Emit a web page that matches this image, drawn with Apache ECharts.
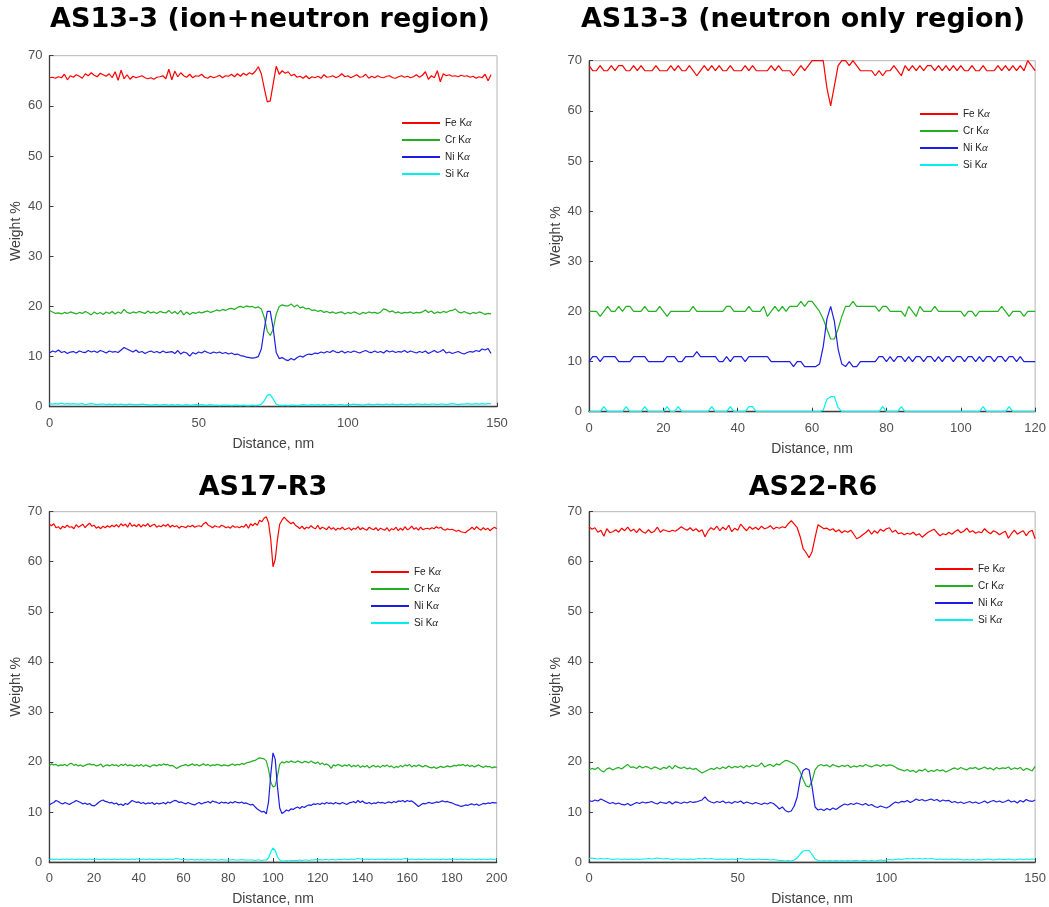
<!DOCTYPE html>
<html>
<head>
<meta charset="utf-8">
<script src="https://cdn.jsdelivr.net/npm/echarts@6/dist/echarts.min.js"></script>
<style>
  html, body { margin: 0; padding: 0; background: #fff; }
  #chart { width: 1049px; height: 907px; }
</style>
</head>
<body>
<div id="chart"></div>
<script>
// names and titles
const elements = ['Fe Kα', 'Cr Kα', 'Ni Kα', 'Si Kα']
const titles = ['AS13-3 (ion+neutron region)', 'AS13-3 (neutron only region)', 'AS17-R3', 'AS22-R6']
const xMax = [150, 120, 200, 150]
const xInterval = [50, 20, 20, 50]
const yTicks = [0, 10, 20, 30, 40, 50, 60, 70]

// AS13-3 ion+neutron, 0..148 nm, one value per nm
const fe1 = [
  65.6, 65.7, 65.5, 65.8, 65.6, 66.3, 65.2, 66.0, 65.7, 66.2,
  65.9, 65.5, 66.4, 66.0, 66.6, 66.1, 65.8, 66.5, 66.2, 65.9,
  66.4, 65.6, 66.8, 65.1, 67.1, 65.4, 66.2, 65.3, 65.9, 65.6,
  65.8, 66.0, 65.6, 65.4, 65.6, 65.3, 65.7, 65.8, 66.0, 65.4,
  67.3, 65.2, 66.9, 65.8, 66.6, 66.0, 65.7, 66.3, 65.6, 66.0,
  65.9, 66.3, 65.7, 65.5, 65.9, 65.6, 65.8, 66.1, 65.6, 66.0,
  65.9, 66.3, 65.8, 66.4, 65.9, 66.5, 66.1, 66.6, 66.3, 66.9,
  67.8, 66.4, 63.5, 60.8, 61.0, 64.5, 67.9, 66.3, 67.0, 66.5,
  66.8, 66.0, 66.3, 65.7, 65.9, 65.5, 66.0, 65.4, 65.8, 65.6,
  65.9, 65.5, 66.2, 65.7, 65.8, 66.0, 65.6, 65.9, 66.4, 65.8,
  66.0, 65.6, 65.9, 66.2, 65.7, 65.8, 66.3, 65.5, 65.9, 65.6,
  66.0, 65.7, 65.6, 65.9, 66.0, 65.6, 65.5, 65.8, 66.0, 65.7,
  65.9, 65.6, 65.8, 66.2, 65.7, 66.1, 66.8, 65.3, 66.0, 65.6,
  67.0, 64.8, 66.4, 66.0, 66.2, 65.9, 66.0, 65.8, 66.1, 65.9,
  66.0, 65.7, 65.9, 65.5, 65.8, 65.6, 66.3, 65.0, 66.2
]
const cr1 = [
  19.2, 18.9, 18.6, 18.7, 18.5, 18.8, 18.6, 18.9, 18.7, 18.5,
  18.8, 18.6, 19.0, 18.7, 18.3, 18.9, 18.5, 18.8, 18.4, 18.9,
  18.6, 19.0, 18.5, 18.9, 18.6, 19.4, 18.8, 18.6, 18.9, 18.7,
  19.0, 18.8, 18.6, 19.1, 18.7, 18.9, 18.6, 19.0, 18.8, 18.7,
  19.2, 18.6, 19.0, 18.5, 19.2, 18.3, 18.9, 18.4, 18.8, 18.6,
  18.9, 18.7, 18.9, 19.1, 18.8, 19.0, 19.3, 19.1, 19.4, 19.2,
  19.5, 19.6, 19.4, 19.8, 20.0, 19.8, 20.1, 19.9, 20.0, 19.7,
  19.9, 19.5, 17.8, 15.0, 14.2, 15.5, 18.5, 20.0, 20.3, 20.1,
  20.1, 20.5, 19.9, 20.3, 19.7, 19.9, 19.5, 19.6, 19.2, 19.3,
  19.0, 19.2, 18.8, 19.0, 18.7, 18.9, 18.6, 18.8, 18.9, 18.5,
  18.8, 18.6, 18.9, 18.7, 18.4, 18.8, 18.6, 18.9, 18.7, 18.8,
  18.6, 18.9, 19.5, 19.3, 18.9, 19.1, 18.7, 18.9, 18.6, 18.8,
  18.7, 18.9, 18.6, 18.8, 18.7, 18.9, 19.3, 18.8, 19.1, 18.6,
  18.9, 18.7, 19.0, 18.8, 19.1, 19.2, 19.5, 18.9, 18.7, 19.0,
  18.7, 18.5, 18.8, 18.6, 18.9, 18.7, 18.4, 18.6, 18.5
]
const ni1 = [
  10.7, 11.1, 10.9, 11.3, 10.8, 11.0, 10.6, 10.9, 11.0, 10.7,
  11.1, 10.9, 10.8, 11.2, 10.9, 11.1, 10.8, 11.2, 11.0, 10.7,
  11.1, 10.9, 11.0, 10.8, 11.3, 11.8, 11.5, 11.2, 10.9, 11.3,
  10.8, 11.0, 10.6, 10.9, 11.1, 10.8, 11.0, 10.7, 11.1, 10.8,
  10.9, 11.0, 10.6, 11.2, 10.5, 10.9, 10.7, 10.1, 10.8, 10.5,
  10.9, 10.7, 11.1, 10.8, 10.6, 10.9, 10.7, 10.9, 10.6, 10.8,
  10.5, 10.7, 10.4, 10.5, 10.2, 10.1, 9.9, 9.8, 9.7, 9.8,
  10.0, 11.5, 15.5, 19.0, 19.0, 15.5, 10.8, 9.6, 9.8, 9.4,
  9.2, 9.6, 9.3, 9.8, 10.1, 9.9, 10.3, 10.5, 10.4, 10.7,
  10.6, 10.9, 10.7, 11.0, 10.8, 11.2, 10.9, 10.8, 11.1, 10.7,
  11.0, 10.8, 11.1, 10.9, 10.7, 11.0, 11.2, 10.9, 10.8, 11.1,
  10.8, 11.0, 10.7, 11.2, 10.9, 11.1, 10.8, 11.0, 10.9, 11.2,
  10.8, 11.1, 10.9, 10.7, 11.0, 10.8, 11.1, 10.6, 10.9, 11.2,
  10.8, 11.0, 11.4, 10.7, 10.9, 10.6, 10.8, 11.0, 10.7, 10.5,
  10.8, 11.0, 10.9, 11.2, 11.0, 11.5, 11.3, 11.6, 10.6
]
const si1 = [
  0.6, 0.5, 0.6, 0.5, 0.7, 0.5, 0.6, 0.5, 0.6, 0.5,
  0.5, 0.6, 0.4, 0.5, 0.6, 0.5, 0.4, 0.5, 0.5, 0.4,
  0.5, 0.4, 0.5, 0.4, 0.5, 0.4, 0.4, 0.5, 0.4, 0.4,
  0.4, 0.5, 0.4, 0.4, 0.3, 0.4, 0.4, 0.3, 0.4, 0.4,
  0.3, 0.4, 0.3, 0.4, 0.3, 0.3, 0.4, 0.3, 0.3, 0.4,
  0.3, 0.4, 0.3, 0.3, 0.4, 0.3, 0.3, 0.2, 0.3, 0.3,
  0.3, 0.2, 0.3, 0.3, 0.2, 0.3, 0.2, 0.2, 0.3, 0.2,
  0.3, 0.5, 1.2, 2.3, 2.4, 1.5, 0.5, 0.3, 0.2, 0.3,
  0.2, 0.3, 0.3, 0.2, 0.3, 0.4, 0.3, 0.3, 0.4, 0.3,
  0.4, 0.3, 0.4, 0.3, 0.4, 0.4, 0.3, 0.4, 0.4, 0.3,
  0.4, 0.4, 0.5, 0.4, 0.4, 0.3, 0.4, 0.5, 0.4, 0.4,
  0.5, 0.4, 0.4, 0.5, 0.4, 0.5, 0.4, 0.4, 0.5, 0.4,
  0.4, 0.5, 0.4, 0.5, 0.5, 0.4, 0.5, 0.4, 0.5, 0.5,
  0.4, 0.5, 0.5, 0.4, 0.5, 0.6, 0.5, 0.4, 0.5, 0.5,
  0.6, 0.5, 0.5, 0.6, 0.5, 0.6, 0.5, 0.6, 0.6
]

// AS13-3 neutron only, 0..120 nm
const fe2 = [
  69, 68, 68, 69, 68, 68, 69, 68, 69, 69,
  68, 68, 69, 68, 69, 68, 68, 68, 69, 68,
  68, 68, 69, 68, 69, 68, 68, 69, 68, 67,
  68, 69, 68, 69, 68, 69, 68, 68, 69, 68,
  68, 68, 69, 68, 69, 68, 68, 68, 68, 69,
  68, 69, 68, 68, 68, 67, 68, 69, 68, 69,
  70, 70, 70, 70, 64.5, 61, 65, 69, 70, 70,
  69, 70, 69, 68, 68, 68, 68, 67, 68, 67,
  68, 68, 69, 68, 67, 69, 68, 69, 68, 69,
  68, 69, 69, 68, 69, 68, 69, 68, 69, 68,
  69, 68, 68, 69, 68, 68, 69, 68, 68, 68,
  69, 68, 69, 68, 69, 68, 69, 68, 70, 69,
  68
]
const cr2 = [
  20, 20, 20, 19, 20, 21, 20, 20, 21, 20,
  21, 21, 20, 20, 20, 21, 20, 20, 20, 21,
  20, 19, 20, 20, 20, 20, 20, 20, 21, 20,
  20, 20, 20, 20, 20, 20, 20, 21, 21, 20,
  20, 20, 20, 21, 20, 20, 20, 21, 19, 20,
  21, 20, 21, 20, 21, 21, 21, 22, 21, 22,
  22, 21, 20, 18.5, 16.5, 14.5, 14.5, 16.5, 19, 21,
  21, 22, 21, 21, 21, 21, 21, 21, 20, 21,
  21, 20, 20, 20, 20, 19, 21, 20, 19, 21,
  20, 20, 20, 21, 20, 20, 20, 20, 20, 20,
  20, 19, 20, 20, 19, 20, 20, 20, 20, 20,
  20, 21, 20, 19, 20, 20, 20, 19, 20, 20,
  20
]
const ni2 = [
  10, 11, 11, 10, 11, 11, 11, 11, 10, 10,
  10, 10, 11, 11, 11, 11, 10, 10, 10, 10,
  10, 11, 11, 11, 10, 10, 11, 11, 11, 12,
  11, 11, 11, 11, 11, 10, 10, 11, 10, 11,
  11, 11, 10, 11, 11, 11, 11, 11, 11, 10,
  10, 10, 10, 10, 10, 9, 10, 10, 9, 9,
  9, 9, 9.5, 13, 18.5, 21, 18, 12.5, 9.5, 9,
  10, 9, 9, 10, 10, 10, 10, 10, 11, 11,
  10, 11, 10, 11, 11, 10, 11, 10, 11, 11,
  10, 11, 11, 10, 11, 10, 11, 11, 10, 11,
  11, 10, 11, 11, 10, 11, 10, 11, 11, 10,
  11, 11, 10, 11, 11, 10, 11, 10, 10, 10,
  10
]
const si2 = [
  0, 0, 0, 0, 1, 0, 0, 0, 0, 0,
  1, 0, 0, 0, 0, 1, 0, 0, 0, 0,
  0, 1, 0, 0, 1, 0, 0, 0, 0, 0,
  0, 0, 0, 1, 0, 0, 0, 0, 1, 0,
  0, 0, 0, 1, 1, 0, 0, 0, 0, 0,
  0, 0, 0, 0, 0, 0, 0, 0, 0, 0,
  0, 0, 0, 0.3, 2.5, 3, 3, 0.8, 0, 0,
  0, 0, 0, 0, 0, 0, 0, 0, 0, 1,
  0, 0, 0, 0, 1, 0, 0, 0, 0, 0,
  0, 0, 0, 0, 0, 0, 0, 0, 0, 0,
  0, 0, 0, 0, 0, 0, 1, 0, 0, 0,
  0, 0, 0, 1, 0, 0, 0, 0, 0, 0,
  0
]

// AS17-R3, 0..200 nm
const fe3 = [
  67.5, 67.2, 67.6, 66.8, 67.0, 66.5, 67.1, 66.8, 67.3, 66.9,
  67.0, 66.6, 67.4, 66.9, 67.2, 67.5, 66.8, 67.3, 67.7, 67.1,
  67.3, 66.7, 67.0, 66.6, 67.1, 66.8, 67.2, 66.9, 67.3, 67.0,
  67.4, 66.9, 67.6, 67.2, 67.5, 66.9, 67.8, 67.1, 67.4, 67.0,
  67.5, 66.9, 67.4, 67.1, 67.6, 67.0, 67.3, 67.5, 66.9, 67.2,
  67.0, 67.4, 67.1, 67.5, 66.9, 67.3, 67.0, 67.2, 66.7, 67.1,
  67.0, 66.8, 67.2, 67.0, 67.3, 66.9, 67.1, 67.2, 67.0, 67.6,
  67.9, 67.3, 67.1, 66.8, 67.2, 67.0, 66.9, 67.3, 67.1, 66.8,
  67.0, 66.7, 67.2, 66.9, 67.0, 66.8, 67.1, 66.9, 67.5, 66.7,
  67.6, 67.2, 67.7, 67.3, 68.3, 68.0, 68.7, 69.0, 67.8, 64.5,
  59.0, 60.5, 64.5, 67.5, 68.3, 68.9, 68.4, 68.0, 67.6, 67.9,
  67.3, 67.0, 66.6, 67.1, 66.5, 66.9, 66.7, 67.2, 66.8, 66.6,
  67.3, 66.5, 66.9, 66.7, 66.4, 67.0, 66.5, 66.8, 66.3, 66.7,
  66.5, 66.9, 66.4, 66.6, 66.8, 66.3, 66.7, 66.5, 67.0, 66.4,
  66.8, 66.5, 66.3, 66.9, 66.6, 66.4, 66.8, 66.2, 66.7, 66.5,
  66.3, 66.8, 66.1, 66.6, 66.4, 66.9, 66.2, 66.7, 66.3, 67.0,
  66.4, 66.6, 67.1, 66.5, 66.8, 66.3, 66.9, 66.4, 66.6, 66.7,
  66.5, 66.8, 66.6, 67.0, 66.7, 66.9, 66.5, 66.3, 66.6, 66.4,
  66.5, 66.3, 66.1, 66.3, 66.0, 65.9, 65.8, 66.2, 66.5, 66.9,
  66.4, 67.0, 66.6, 66.3, 66.8, 66.4, 66.7, 66.2, 66.6, 66.9,
  66.6
]
const cr3 = [
  19.3, 19.6, 19.4, 19.5, 19.2, 19.4, 19.3, 19.5, 19.2, 19.6,
  19.7, 19.3, 19.5, 19.2, 19.4, 19.1, 19.3, 19.5, 19.6, 19.4,
  19.5, 19.2, 19.3, 19.6, 19.0, 19.3, 19.4, 19.2, 19.5, 19.3,
  19.4, 19.1, 19.5, 19.3, 19.6, 19.2, 19.4, 19.3, 19.1, 19.4,
  19.2, 19.5, 19.1, 19.4, 19.2, 19.0, 19.3, 19.4, 19.2, 19.5,
  19.3, 19.6, 19.4, 19.5, 19.2, 19.3, 19.0, 18.7, 19.0, 19.2,
  19.3, 19.5, 19.2, 19.4, 19.6, 19.3, 19.5, 19.2, 19.4, 19.6,
  19.3, 19.5, 19.2, 19.4, 19.3, 19.5, 19.4, 19.2, 19.4, 19.3,
  19.2, 19.4, 19.6, 19.3, 19.5, 19.4, 19.7, 19.5, 19.8, 19.9,
  20.0, 20.2, 20.3, 20.6, 20.8, 20.7, 20.6, 20.2, 18.5, 16.0,
  15.0, 15.2, 17.2, 19.5, 20.0, 19.8, 20.1, 19.9, 20.2, 20.0,
  19.9, 20.2, 20.0, 19.8, 20.1, 20.0, 19.8, 20.2, 19.9, 19.7,
  20.0, 19.5, 19.8, 19.4, 19.6, 19.3, 18.7, 19.4, 19.2, 19.5,
  19.3, 19.1, 19.4, 19.2, 19.5, 19.0, 19.3, 19.1, 19.4, 18.9,
  19.2, 19.0, 19.3, 18.8, 19.1, 19.3, 19.0, 19.2, 18.9, 19.3,
  19.1, 19.4, 19.0, 19.2, 18.8, 19.1, 18.9, 19.3, 19.0, 19.4,
  19.2, 19.5, 19.0, 19.3, 19.1, 19.4, 19.2, 19.0, 19.3, 19.1,
  18.9, 18.8, 19.0, 18.7, 18.9, 19.1, 18.9, 19.0, 19.2, 19.0,
  19.1, 19.3, 19.2, 19.4, 19.3, 19.5, 19.2, 19.4, 19.1, 19.3,
  19.0, 19.2, 19.4, 19.1, 18.9, 19.2, 19.0, 19.1, 18.8, 19.0,
  18.9
]
const ni3 = [
  11.4, 11.7, 11.9, 12.3, 12.1, 11.8, 11.6, 11.9, 11.7, 11.5,
  11.8, 12.0, 12.3, 12.1, 11.9, 11.6, 11.8, 11.5, 11.7, 11.3,
  11.2, 11.5, 11.9, 12.2, 12.4, 12.1, 12.0, 11.8, 11.9, 11.6,
  11.8, 11.4, 11.6, 11.3, 11.7, 11.5, 11.9, 12.3, 12.1, 11.9,
  12.0, 11.7, 11.9, 11.6, 11.8, 11.7, 11.9, 11.5, 11.8, 11.6,
  11.7, 11.9, 11.6, 12.0, 11.8, 12.1, 12.3, 12.2, 11.9, 12.0,
  11.8, 11.6, 11.9, 11.7, 11.5, 11.4, 11.7, 11.9, 11.6, 11.8,
  11.9, 12.1, 11.8, 12.2, 12.0, 11.9, 11.7, 12.0, 11.8, 11.9,
  11.7, 12.0, 11.8, 12.1, 11.9, 11.8, 12.0, 11.7, 11.8, 11.6,
  11.4, 11.5, 11.0, 10.6, 10.3, 10.0, 10.1, 9.6, 12.0, 17.5,
  21.8, 20.5, 15.0, 10.8, 9.7, 10.0, 10.4, 10.2, 10.6, 10.5,
  10.8, 11.0, 10.7, 11.1, 10.9, 11.2, 11.4, 11.3, 11.6, 11.5,
  11.7, 11.5, 11.8, 11.6, 11.9, 11.7, 11.8, 11.6, 11.9, 11.7,
  11.6, 11.9, 11.7, 11.5, 11.8, 11.9, 12.1, 11.8, 12.3, 11.9,
  12.2, 11.8, 11.7, 11.9, 11.6, 11.8, 11.7, 12.0, 11.8, 11.9,
  11.7, 11.9, 12.0, 11.8, 12.1, 11.9, 12.2, 12.1, 12.3, 12.0,
  12.3, 12.1, 12.2, 11.9, 11.5, 11.1, 11.4, 11.7, 11.6, 11.8,
  11.9, 11.7, 11.8, 12.0, 11.9, 12.1, 12.2, 12.0, 12.1, 11.9,
  11.8, 11.6, 11.4, 11.3, 11.1, 11.2, 11.4, 11.3, 11.5, 11.6,
  11.4, 11.6, 11.3, 11.5, 11.7, 11.6, 11.8, 11.7, 11.9, 11.8,
  11.8
]
const si3 = [
  0.5, 0.6, 0.5, 0.6, 0.5, 0.5, 0.6, 0.5, 0.6, 0.5,
  0.6, 0.5, 0.5, 0.6, 0.5, 0.6, 0.5, 0.5, 0.6, 0.5,
  0.5, 0.6, 0.5, 0.5, 0.6, 0.5, 0.6, 0.5, 0.5, 0.6,
  0.5, 0.5, 0.6, 0.5, 0.6, 0.5, 0.5, 0.6, 0.5, 0.6,
  0.6, 0.5, 0.6, 0.5, 0.5, 0.6, 0.5, 0.5, 0.6, 0.5,
  0.5, 0.6, 0.5, 0.5, 0.6, 0.5, 0.6, 0.7, 0.6, 0.5,
  0.5, 0.5, 0.4, 0.5, 0.5, 0.4, 0.5, 0.4, 0.5, 0.4,
  0.4, 0.5, 0.4, 0.4, 0.5, 0.4, 0.4, 0.5, 0.4, 0.4,
  0.4, 0.4, 0.5, 0.4, 0.4, 0.4, 0.5, 0.4, 0.4, 0.4,
  0.4, 0.4, 0.3, 0.4, 0.4, 0.3, 0.4, 0.4, 0.8, 2.0,
  2.8, 2.3, 1.0, 0.4, 0.2, 0.2, 0.3, 0.2, 0.3, 0.3,
  0.3, 0.3, 0.4, 0.3, 0.4, 0.4, 0.3, 0.4, 0.4, 0.5,
  0.4, 0.5, 0.4, 0.5, 0.5, 0.4, 0.5, 0.5, 0.4, 0.5,
  0.5, 0.5, 0.6, 0.5, 0.5, 0.6, 0.5, 0.6, 0.7, 0.6,
  0.6, 0.5, 0.6, 0.5, 0.6, 0.5, 0.5, 0.6, 0.5, 0.6,
  0.5, 0.6, 0.5, 0.5, 0.6, 0.5, 0.6, 0.5, 0.6, 0.7,
  0.6, 0.5, 0.6, 0.5, 0.5, 0.6, 0.5, 0.5, 0.6, 0.5,
  0.5, 0.6, 0.5, 0.6, 0.5, 0.5, 0.6, 0.5, 0.5, 0.6,
  0.5, 0.6, 0.5, 0.5, 0.6, 0.5, 0.6, 0.5, 0.5, 0.6,
  0.5, 0.5, 0.6, 0.5, 0.6, 0.5, 0.5, 0.6, 0.5, 0.5,
  0.6
]

// AS22-R6, 0..150 nm
const fe4 = [
  67.0, 66.5, 66.8, 65.9, 66.3, 65.1, 66.6, 65.8, 66.0, 66.4,
  65.9, 66.7, 66.2, 66.9, 66.1, 66.5, 65.8, 66.6, 66.0, 65.7,
  66.4, 65.8, 66.1, 66.9, 65.9, 66.4, 66.2, 66.0, 66.3, 66.1,
  66.5, 67.0, 66.6, 66.3, 66.8, 66.2, 66.6, 66.0, 66.4, 65.0,
  66.1, 66.8, 66.4, 67.1, 66.2, 66.9, 66.4, 67.3, 66.0, 66.7,
  66.3, 67.5, 66.8, 66.2, 67.0, 66.5, 66.9, 66.4, 67.1, 66.6,
  66.8, 67.2, 66.5, 66.9, 66.7, 67.0, 66.8, 67.6, 68.2, 67.5,
  66.8, 65.0, 62.6, 61.8, 60.8, 62.0, 64.8, 67.4, 67.0, 66.6,
  66.7, 66.3, 66.6, 66.0, 66.4, 65.8, 66.2, 65.9, 66.3, 65.5,
  64.6, 64.9, 65.4, 65.8, 66.4, 65.5, 66.2, 65.7, 66.5, 66.1,
  66.6, 66.8, 65.9, 66.3, 65.6, 65.8, 65.4, 65.7, 65.5, 65.9,
  65.3, 65.6, 64.9, 65.4, 65.9, 66.2, 66.5, 65.8, 65.2, 65.6,
  65.4, 65.9, 65.5, 66.0, 66.4, 65.8, 66.1, 66.7, 65.9, 66.2,
  65.7, 66.0, 65.8, 66.6, 66.0, 65.6, 66.2, 65.9, 65.4, 65.8,
  66.1, 64.7, 65.6, 66.3, 65.5, 65.9, 66.2, 65.2, 66.0, 66.3,
  64.6
]
const cr4 = [
  18.4, 18.7, 18.5, 18.9, 18.3, 18.0, 18.6, 18.8, 18.4, 18.7,
  18.9, 18.6, 19.1, 19.5, 18.9, 19.0, 18.7, 19.2, 18.8, 19.1,
  18.9, 18.6, 19.0, 18.8, 18.5, 18.9, 18.7, 19.2, 18.6, 19.3,
  18.9, 18.7, 19.0, 18.6, 18.8, 18.5, 18.7, 18.2, 17.8, 18.1,
  18.4, 18.7, 18.5, 18.9, 18.6, 19.0, 18.7, 19.2, 18.8, 19.1,
  18.9, 19.2, 18.8, 19.3, 19.0, 19.4, 19.1, 19.2, 19.8, 19.0,
  19.3, 19.5, 19.1, 19.6, 19.4, 19.9, 20.3, 20.2, 19.9, 19.6,
  19.0, 18.0, 16.5, 15.2, 15.0, 16.2, 18.4, 19.2, 19.5, 19.2,
  19.4, 19.0, 19.5, 19.2, 19.0, 19.3, 19.1, 19.4, 18.9, 19.2,
  19.0, 19.3, 19.1, 19.5, 19.2, 19.0, 19.3, 19.4, 19.1, 19.5,
  19.2, 19.4, 19.3, 19.0, 18.6, 18.4, 18.2, 18.5, 18.1, 18.3,
  17.9, 18.4, 18.2, 18.6, 18.0, 18.3, 18.1, 18.5, 18.2, 18.4,
  18.0, 18.3, 18.6, 18.8, 18.5, 18.9, 18.6, 18.4, 18.8, 18.7,
  18.9, 18.5, 18.7, 19.0, 18.6, 18.8, 18.4, 18.9, 18.6, 18.8,
  18.7, 19.0, 18.5, 18.8, 18.6, 18.9, 18.3, 18.7, 18.5, 18.2,
  19.1
]
const ni4 = [
  12.3, 12.1, 12.4, 12.2, 12.6, 12.3, 12.0, 11.7, 11.9, 11.6,
  11.8, 11.5, 11.4, 11.7, 11.3, 11.6, 11.9, 11.7, 12.0, 11.8,
  11.9, 12.1, 11.8, 11.6, 12.0, 11.8, 11.7, 12.1, 11.6, 12.0,
  11.9, 11.7, 12.0, 11.8, 12.1, 11.9, 12.0, 12.2, 12.4, 13.0,
  12.3, 12.0, 11.8, 12.1, 11.9, 12.2, 11.8, 12.0, 11.7, 12.1,
  11.9, 12.2, 11.7, 12.0, 11.8, 11.6, 11.9, 11.7, 11.5, 11.8,
  11.6, 11.9, 11.7, 11.2, 10.6, 11.0, 10.3, 10.0, 10.2, 11.2,
  13.0, 16.5, 18.3, 18.7, 18.4, 15.0, 11.0, 10.4, 10.6, 10.3,
  10.7, 10.4, 10.8, 10.5, 10.9, 11.3, 11.6, 11.4, 11.7, 11.5,
  11.8, 11.6, 11.4, 11.7, 11.3, 11.5, 11.1, 10.9, 11.2, 11.0,
  10.8, 11.1, 11.6, 12.0, 11.8, 12.1, 12.0, 12.3, 11.9, 12.2,
  12.6, 12.3, 12.5, 12.2, 12.4, 12.6, 12.3, 12.5, 12.1, 12.4,
  12.2, 12.3, 11.9, 12.1, 11.8, 12.0, 11.7, 11.9, 12.1, 11.8,
  12.0, 11.7, 11.9, 12.2, 11.8, 12.1, 12.3, 12.0, 12.2, 11.9,
  12.1, 12.4, 12.0, 12.2, 11.8, 12.3, 12.0, 12.5, 12.2, 12.1,
  12.4
]
const si4 = [
  0.7, 0.8, 0.7, 0.6, 0.7, 0.6, 0.7, 0.6, 0.5, 0.6,
  0.6, 0.5, 0.6, 0.5, 0.6, 0.5, 0.6, 0.5, 0.6, 0.6,
  0.7, 0.6, 0.7, 0.8, 0.7, 0.6, 0.7, 0.6, 0.5, 0.6,
  0.6, 0.5, 0.6, 0.5, 0.6, 0.5, 0.6, 0.7, 0.6, 0.7,
  0.6, 0.7, 0.6, 0.5, 0.6, 0.5, 0.6, 0.5, 0.6, 0.5,
  0.6, 0.7, 0.6, 0.5, 0.6, 0.5, 0.5, 0.6, 0.5, 0.5,
  0.5, 0.4, 0.5, 0.4, 0.3, 0.3, 0.2, 0.3, 0.2, 0.4,
  0.8, 1.6, 2.2, 2.3, 2.3, 1.5, 0.6, 0.3, 0.2, 0.3,
  0.2, 0.3, 0.2, 0.3, 0.2, 0.3, 0.2, 0.3, 0.2, 0.3,
  0.3, 0.2, 0.3, 0.3, 0.2, 0.3, 0.2, 0.3, 0.4, 0.3,
  0.4, 0.5, 0.4, 0.5, 0.6, 0.5, 0.6, 0.7, 0.6, 0.7,
  0.6, 0.7, 0.6, 0.7, 0.6, 0.7, 0.6, 0.5, 0.6, 0.5,
  0.6, 0.5, 0.6, 0.5, 0.6, 0.5, 0.4, 0.5, 0.4, 0.5,
  0.4, 0.5, 0.4, 0.5, 0.6, 0.5, 0.4, 0.5, 0.6, 0.5,
  0.5, 0.6, 0.5, 0.4, 0.5, 0.6, 0.5, 0.6, 0.5, 0.6,
  0.5
]

const panelData = [
  [fe1, cr1, ni1, si1],
  [fe2, cr2, ni2, si2],
  [fe3, cr3, ni3, si3],
  [fe4, cr4, ni4, si4]
]

// layout (pixels)
const colors = ['#ff0000', '#22b022', '#1c1ce8', '#00f0f0']
const grids = [
  { left: 49.5, top: 55.7, width: 447.5, height: 351 },
  { left: 589, top: 60.7, width: 446.7, height: 351 },
  { left: 49.3, top: 511.7, width: 447.4, height: 351.6 },
  { left: 589, top: 511.7, width: 446.7, height: 351.6 }
]
const titlePos = [
  { left: 265, top: 1 },
  { left: 798, top: 1 },
  { left: 258, top: 469 },
  { left: 808, top: 469 }
]
const legendPos = [
  { left: 402, top: 117 },
  { left: 920, top: 108 },
  { left: 371, top: 566 },
  { left: 935, top: 563 }
]

const chart = echarts.init(document.getElementById('chart'))
const axisColor = '#3c3c3c'
const font = 'Liberation Sans, Arial, sans-serif'

const option = {
  animation: false,
  backgroundColor: '#fff',
  title: titles.map((t, i) => ({
    text: t,
    left: titlePos[i].left,
    top: titlePos[i].top,
    textAlign: 'center',
    textStyle: { fontFamily: 'DejaVu Sans', fontWeight: 'bold', fontSize: 27, color: '#000' }
  })),
  legend: legendPos.map(p => ({
    data: elements,
    orient: 'vertical',
    left: p.left,
    top: p.top,
    padding: 0,
    itemGap: 5,
    itemWidth: 38,
    itemHeight: 2,
    icon: 'rect',
    selectedMode: false,
    formatter: name => name.replace('α', '{a|α}'),
    textStyle: {
      fontFamily: font,
      fontSize: 10,
      lineHeight: 12,
      color: '#222',
      rich: { a: { fontFamily: 'Liberation Serif', fontStyle: 'italic', fontSize: 11, color: '#222' } }
    }
  })),
  grid: grids.map(g => ({
    left: g.left, top: g.top, width: g.width, height: g.height,
    show: true, borderColor: '#b4b4b4', borderWidth: 1
  })),
  xAxis: grids.map((g, i) => ({
    gridIndex: i,
    type: 'value',
    min: 0,
    max: xMax[i],
    interval: xInterval[i],
    name: 'Distance, nm',
    nameLocation: 'middle',
    nameGap: 30,
    nameTextStyle: { fontFamily: font, fontSize: 14, color: '#404040' },
    axisLine: { show: true, lineStyle: { color: axisColor, width: 1.3 } },
    axisTick: { show: true, inside: true, length: 4, lineStyle: { color: axisColor } },
    axisLabel: { fontFamily: font, fontSize: 13, color: '#505050', margin: 10 },
    splitLine: { show: false }
  })),
  yAxis: grids.map((g, i) => ({
    gridIndex: i,
    type: 'value',
    min: yTicks[0],
    max: yTicks[yTicks.length - 1],
    interval: yTicks[1] - yTicks[0],
    name: 'Weight %',
    nameLocation: 'middle',
    nameGap: 26,
    nameTextStyle: { fontFamily: font, fontSize: 14, color: '#404040' },
    axisLine: { show: true, lineStyle: { color: axisColor, width: 1.3 } },
    axisTick: { show: true, inside: true, length: 4, lineStyle: { color: axisColor } },
    axisLabel: { fontFamily: font, fontSize: 13, color: '#505050', margin: 7 },
    splitLine: { show: false }
  })),
  series: []
}

// x is the distance in nm: one reading per nm from 0
panelData.forEach((vals, i) => {
  vals.forEach((ys, j) => {
    option.series.push({
      name: elements[j],
      type: 'line',
      xAxisIndex: i,
      yAxisIndex: i,
      symbol: 'none',
      silent: true,
      color: colors[j],
      lineStyle: { width: 1.2, color: colors[j] },
      data: ys.map((y, k) => [k, y])
    })
  })
})

chart.setOption(option)
</script>
</body>
</html>
